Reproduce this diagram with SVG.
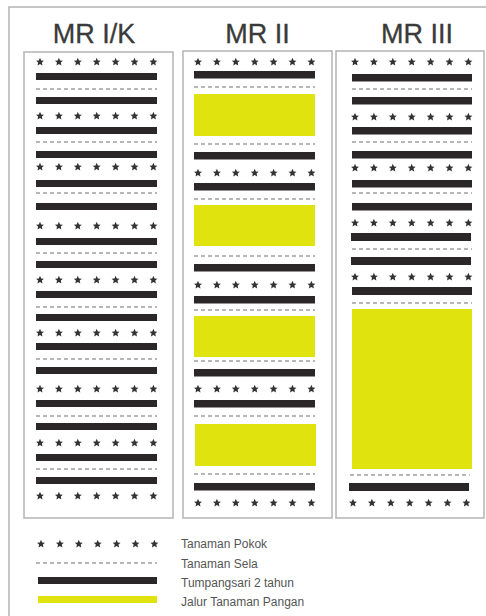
<svg xmlns="http://www.w3.org/2000/svg" xmlns:xlink="http://www.w3.org/1999/xlink" width="486" height="616" viewBox="0 0 486 616">
<style>
.bar{fill:#2b2628}
.yel{fill:#e0e30e}
.dash{stroke:#a0a0a0;stroke-width:1.5;stroke-dasharray:4 3;fill:none}
.box{fill:#fff;stroke:#b4b4b4;stroke-width:1.5}
.frame{fill:none;stroke:#b4b4b4;stroke-width:1.5}
.title{font-family:"Liberation Sans",Arial,sans-serif;font-size:27px;fill:#3a3a3a;text-anchor:middle;stroke:#3a3a3a;stroke-width:0.3}
.leg{font-family:"Liberation Sans",Arial,sans-serif;font-size:12px;fill:#555}
.star{fill:#333}
</style>
<defs>
<path id="st" class="star" d="M0,-4.2 L1.18,-1.62 L3.99,-1.3 L1.9,0.62 L2.47,3.4 L0,2 L-2.47,3.4 L-1.9,0.62 L-3.99,-1.3 L-1.18,-1.62 Z"/>
<g id="row">
<use xlink:href="#st" x="0"/><use xlink:href="#st" x="18.9"/><use xlink:href="#st" x="37.8"/><use xlink:href="#st" x="56.7"/><use xlink:href="#st" x="75.6"/><use xlink:href="#st" x="94.5"/><use xlink:href="#st" x="113.4"/>
</g>
</defs>
<rect width="486" height="616" fill="#fff"/>
<path class="frame" d="M9,616 V7 H486"/>

<g id="mr1">
<text class="title" x="94" y="43">MR I/K</text>
<rect class="box" x="24" y="52" width="149" height="466"/>
<use xlink:href="#row" x="40" y="62"/>
<use xlink:href="#row" x="40" y="116"/>
<use xlink:href="#row" x="40" y="167"/>
<use xlink:href="#row" x="40" y="226"/>
<use xlink:href="#row" x="40" y="280"/>
<use xlink:href="#row" x="40" y="333"/>
<use xlink:href="#row" x="40" y="389"/>
<use xlink:href="#row" x="40" y="443"/>
<use xlink:href="#row" x="40" y="496"/>
<rect class="bar" x="36" y="73" width="121" height="7"/>
<rect class="bar" x="36" y="97" width="121" height="7"/>
<rect class="bar" x="36" y="127" width="121" height="7"/>
<rect class="bar" x="36" y="151" width="121" height="7"/>
<rect class="bar" x="36" y="180" width="121" height="7"/>
<rect class="bar" x="36" y="203" width="121" height="7"/>
<rect class="bar" x="36" y="238" width="121" height="7"/>
<rect class="bar" x="36" y="261" width="121" height="7"/>
<rect class="bar" x="36" y="291" width="121" height="7"/>
<rect class="bar" x="36" y="314" width="121" height="7"/>
<rect class="bar" x="36" y="343" width="121" height="7"/>
<rect class="bar" x="36" y="367" width="121" height="7"/>
<rect class="bar" x="36" y="400" width="121" height="7"/>
<rect class="bar" x="36" y="423" width="121" height="7"/>
<rect class="bar" x="36" y="454" width="121" height="7"/>
<rect class="bar" x="36" y="477" width="121" height="7"/>
<line class="dash" x1="36" y1="89" x2="157" y2="89"/>
<line class="dash" x1="36" y1="142" x2="157" y2="142"/>
<line class="dash" x1="36" y1="193" x2="157" y2="193"/>
<line class="dash" x1="36" y1="253" x2="157" y2="253"/>
<line class="dash" x1="36" y1="307" x2="157" y2="307"/>
<line class="dash" x1="36" y1="359" x2="157" y2="359"/>
<line class="dash" x1="36" y1="416" x2="157" y2="416"/>
<line class="dash" x1="36" y1="469" x2="157" y2="469"/>
</g>

<g id="mr2">
<text class="title" x="257.5" y="43">MR II</text>
<rect class="box" x="183" y="51" width="149" height="467"/>
<use xlink:href="#row" x="198" y="62"/>
<use xlink:href="#row" x="198" y="173"/>
<use xlink:href="#row" x="198" y="285"/>
<use xlink:href="#row" x="198" y="389"/>
<use xlink:href="#row" x="198" y="503"/>
<rect class="bar" x="194" y="71" width="121" height="7.5"/>
<rect class="bar" x="194" y="152" width="121" height="7.5"/>
<rect class="bar" x="194" y="183" width="121" height="7.5"/>
<rect class="bar" x="194" y="264" width="121" height="7.5"/>
<rect class="bar" x="194" y="296" width="121" height="7.5"/>
<rect class="bar" x="194" y="369" width="121" height="7.5"/>
<rect class="bar" x="194" y="400" width="121" height="7.5"/>
<rect class="bar" x="194" y="483" width="121" height="7.5"/>
<line class="dash" x1="194" y1="87" x2="315" y2="87"/>
<line class="dash" x1="194" y1="144" x2="315" y2="144"/>
<line class="dash" x1="194" y1="199" x2="315" y2="199"/>
<line class="dash" x1="194" y1="256" x2="315" y2="256"/>
<line class="dash" x1="194" y1="310" x2="315" y2="310"/>
<line class="dash" x1="194" y1="361" x2="315" y2="361"/>
<line class="dash" x1="194" y1="416" x2="315" y2="416"/>
<line class="dash" x1="194" y1="474" x2="315" y2="474"/>
<rect class="yel" x="194" y="94" width="121" height="42"/>
<rect class="yel" x="194" y="205" width="121" height="41"/>
<rect class="yel" x="194" y="316" width="121" height="41"/>
<rect class="yel" x="195" y="424" width="121" height="42"/>
</g>

<g id="mr3">
<text class="title" x="417" y="43">MR III</text>
<rect class="box" x="336" y="51" width="148" height="467"/>
<use xlink:href="#row" x="355" y="62"/>
<use xlink:href="#row" x="355" y="117"/>
<use xlink:href="#row" x="355" y="168"/>
<use xlink:href="#row" x="355" y="223"/>
<use xlink:href="#row" x="355" y="277"/>
<use xlink:href="#row" x="353" y="503"/>
<rect class="bar" x="352" y="74" width="120" height="7.5"/>
<rect class="bar" x="352" y="97" width="120" height="7.5"/>
<rect class="bar" x="352" y="127" width="120" height="7.5"/>
<rect class="bar" x="352" y="151" width="120" height="7.5"/>
<rect class="bar" x="352" y="180" width="120" height="7.5"/>
<rect class="bar" x="352" y="203" width="120" height="7.5"/>
<rect class="bar" x="351" y="233" width="120" height="8"/>
<rect class="bar" x="351" y="257" width="120" height="8"/>
<rect class="bar" x="352" y="287" width="120" height="8"/>
<rect class="bar" x="349" y="483" width="120" height="8"/>
<line class="dash" x1="352" y1="89" x2="472" y2="89"/>
<line class="dash" x1="352" y1="142" x2="472" y2="142"/>
<line class="dash" x1="352" y1="193" x2="472" y2="193"/>
<line class="dash" x1="352" y1="249" x2="472" y2="249"/>
<line class="dash" x1="352" y1="303" x2="472" y2="303"/>
<line class="dash" x1="350" y1="475" x2="470" y2="475"/>
<rect class="yel" x="352" y="309" width="120" height="160"/>
</g>

<g id="legend">
<use xlink:href="#row" x="41" y="544"/>
<line class="dash" x1="36" y1="563" x2="157" y2="563"/>
<rect class="bar" x="38" y="577" width="119" height="7"/>
<rect class="yel" x="38" y="596" width="119" height="7"/>
<text class="leg" x="181" y="548">Tanaman Pokok</text>
<text class="leg" x="181" y="568">Tanaman Sela</text>
<text class="leg" x="181" y="587">Tumpangsari 2 tahun</text>
<text class="leg" x="181" y="606">Jalur Tanaman Pangan</text>
</g>
</svg>
